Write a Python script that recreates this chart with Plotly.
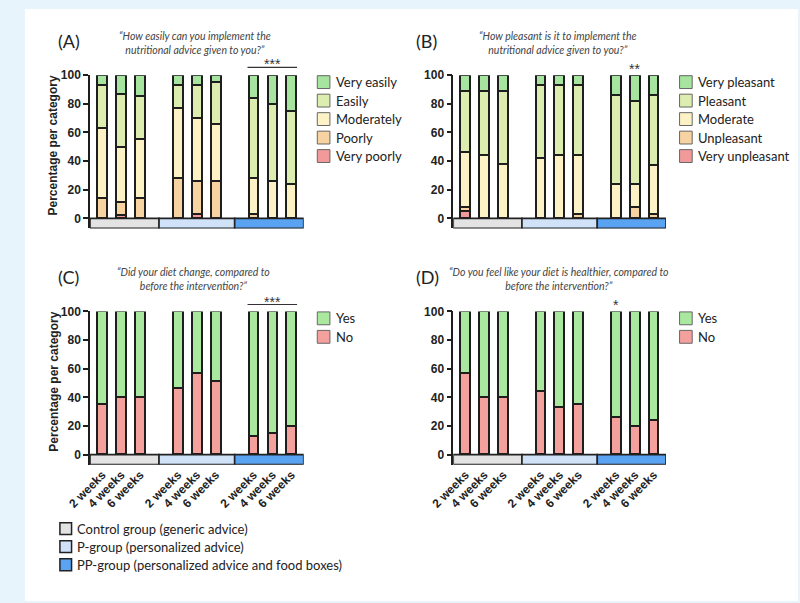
import plotly.graph_objects as go

W, H = 800, 603

weeks = ["2 weeks", "4 weeks", "6 weeks"]
group_names = ["Control group (generic advice)", "P-group (personalized advice)",
               "PP-group (personalized advice and food boxes)"]
group_colors = ["#e3e3e3", "#cfe2f8", "#5aa3f2"]

# Panel A: "How easily..." (bottom -> top), 9 bars: Control 2/4/6w, P 2/4/6w, PP 2/4/6w
a_labels = ["Very poorly", "Poorly", "Moderately", "Easily", "Very easily"]
a_very_poorly = [0, 2.5, 0, 0, 3, 0, 0, 0, 0]
a_poorly = [14, 8.5, 14, 28, 23, 26, 3, 0, 0]
a_moderately = [49, 39, 41, 49, 44, 40, 25, 26, 24]
a_easily = [30, 37, 30, 16, 23, 29, 56, 54, 51]
a_very_easily = [7, 13, 15, 7, 7, 5, 16, 20, 25]

# Panel B: "How pleasant..."
b_labels = ["Very unpleasant", "Unpleasant", "Moderate", "Pleasant", "Very pleasant"]
b_very_unpleasant = [5, 0, 0, 0, 0, 0, 0, 0, 0]
b_unpleasant = [2.5, 0, 0, 0, 0, 3, 0, 8, 3]
b_moderate = [38.5, 44, 37.5, 42, 44, 41, 24, 16, 34]
b_pleasant = [43, 45, 51.5, 51, 49, 49, 62, 58, 49]
b_very_pleasant = [11, 11, 11, 7, 7, 7, 14, 18, 14]

# Panel C: "Did your diet change..."
yn_labels = ["No", "Yes"]
c_no = [35, 40, 40, 46, 57, 51, 13, 15, 20]
c_yes = [65, 60, 60, 54, 43, 49, 87, 85, 80]

# Panel D: "Do you feel like your diet is healthier..."
d_no = [57, 40, 40, 44, 33, 35, 26, 20, 24]
d_yes = [43, 60, 60, 56, 67, 65, 74, 80, 76]

five_colors = ["#f29a9a", "#f8d3a2", "#fcf2c6", "#ddedb0", "#a6e4a0"]
yn_colors = ["#f4a19e", "#aae8a0"]

questions = [
    "\u201cHow easily can you implement the<br>nutritional advice given to you?\u201d",
    "\u201cHow pleasant is it to implement the<br>nutritional advice given to you?\u201d",
    "\u201cDid your diet change, compared to<br>before the intervention?\u201d",
    "\u201cDo you feel like your diet is healthier, compared to<br>before the intervention?\u201d",
]
panel_tags = ["(A)", "(B)", "(C)", "(D)"]

# bar positions: group index * 4 + week index
xpos = [g * 4 + w for g in range(3) for w in range(3)]
xtext = [weeks[w] for g in range(3) for w in range(3)]

fx = lambda px: px / W
fy = lambda py: 1 - py / H

# panel pixel boxes (left, right, top(=100), bottom(=-7))
panels = [
    dict(l=69, r=289, t=69, b=224, tag=47.5, q=177),
    dict(l=443, r=662, t=69, b=224, tag=415, q=551),
    dict(l=69, r=289, t=308, b=463, tag=47, q=176),
    dict(l=443, r=662, t=308, b=463, tag=416, q=552),
]

series = [
    (a_labels, [a_very_poorly, a_poorly, a_moderately, a_easily, a_very_easily], five_colors),
    (b_labels, [b_very_unpleasant, b_unpleasant, b_moderate, b_pleasant, b_very_pleasant], five_colors),
    (yn_labels, [c_no, c_yes], yn_colors),
    (yn_labels, [d_no, d_yes], yn_colors),
]

XR = [-0.65, 10.65]
YR = [-7, 100]
EDGE = "#1e1e1e"
LEG_FONT = "Lato"
ARIAL = "Liberation Sans, Arial"
fig = go.Figure()
shapes = []
annotations = []

# frame
shapes.append(dict(type="rect", xref="paper", yref="paper", x0=fx(2), x1=fx(798),
                   y0=fy(601), y1=fy(2), fillcolor="white", line=dict(width=0), layer="below"))

for i, (p, (labels, vals, cols)) in enumerate(zip(panels, series)):
    n = i + 1
    xa = "x" if n == 1 else f"x{n}"
    ya = "y" if n == 1 else f"y{n}"
    for lab, v, c in zip(labels, vals, cols):
        fig.add_trace(go.Bar(x=xpos, y=v, name=lab, marker=dict(color=c, line=dict(color=EDGE, width=2)),
                             width=0.52, xaxis=xa, yaxis=ya, showlegend=False, cliponaxis=False))
    xkey = "xaxis" if n == 1 else f"xaxis{n}"
    ykey = "yaxis" if n == 1 else f"yaxis{n}"
    show_x = i >= 2
    fig.update_layout(**{
        xkey: dict(domain=[fx(p["l"]), fx(p["r"])], range=XR, anchor=ya, showgrid=False, zeroline=False,
                   showline=False, ticks="", tickmode="array", tickvals=xpos, ticktext=xtext,
                   showticklabels=show_x, tickangle=-45,
                   tickfont=dict(family=ARIAL, size=12, color="#222", weight="bold")),
        ykey: dict(domain=[fy(p["b"]), fy(p["t"])], range=YR, anchor=xa, showgrid=False, zeroline=False,
                   showline=True, linecolor=EDGE, linewidth=1.5, ticks="outside", ticklen=5, tickwidth=1.5,
                   tickcolor=EDGE, tickmode="array", tickvals=[0, 20, 40, 60, 80, 100],
                   tickfont=dict(family=ARIAL, size=12, color="#222", weight="bold")),
    })
    # group boxes under the bars
    bounds = [XR[0], 3, 7, XR[1]]
    for g in range(3):
        shapes.append(dict(type="rect", xref=xa, yref=ya, x0=bounds[g], x1=bounds[g + 1], y0=-7, y1=0,
                           fillcolor=group_colors[g], line=dict(color="#222", width=1.6), layer="above"))
    # panel tag
    annotations.append(dict(text=panel_tags[i], xref="paper", yref="paper", x=fx(p["tag"]),
                            y=fy(p["t"] - 35), xanchor="center", yanchor="middle", showarrow=False,
                            font=dict(family=LEG_FONT, size=18, color="#222")))
    # question
    annotations.append(dict(text="<i>" + questions[i] + "</i>", xref="paper", yref="paper", x=fx(p["q"]),
                            y=fy(p["t"] - 33), xanchor="center", yanchor="middle", showarrow=False,
                            font=dict(family=LEG_FONT, size=10.5, color="#444")))
    # legend (manual)
    lx = p["r"] + 14
    for k, (lab, c) in enumerate(zip(labels[::-1], cols[::-1])):
        cy = p["t"] + 7 + k * 18.7
        shapes.append(dict(type="rect", xref="paper", yref="paper", x0=fx(lx), x1=fx(lx + 13),
                           y0=fy(cy + 6.5), y1=fy(cy - 6.5), fillcolor=c, line=dict(color="#666", width=1)))
        annotations.append(dict(text=lab, xref="paper", yref="paper", x=fx(lx + 17), y=fy(cy),
                                xanchor="left", yanchor="middle", showarrow=False,
                                font=dict(family=LEG_FONT, size=13, color="#222")))

# y-axis titles (A and C)
for p in (panels[0], panels[2]):
    annotations.append(dict(text="<b>Percentage per category</b>", xref="paper", yref="paper", x=fx(31),
                            y=fy(p["t"] + 71), textangle=-90, xanchor="center", yanchor="middle",
                            showarrow=False, font=dict(family=ARIAL, size=12, color="#222")))

# significance marks
for (xa, py, txt, x0, x1) in [("x", 61, "***", 7.68, 10.3), ("x3", 301, "***", 7.68, 10.3)]:
    shapes.append(dict(type="line", xref=xa, yref="paper", x0=x0, x1=x1, y0=fy(py), y1=fy(py),
                       line=dict(color="#333", width=1.2)))
    annotations.append(dict(text=txt, xref=xa, yref="paper", x=(x0 + x1) / 2, y=fy(py - 3),
                            xanchor="center", yanchor="middle", showarrow=False,
                            font=dict(family=ARIAL, size=14, color="#333")))
annotations.append(dict(text="**", xref="x2", yref="paper", x=9, y=fy(63), xanchor="center",
                        yanchor="middle", showarrow=False, font=dict(family=ARIAL, size=14, color="#333")))
annotations.append(dict(text="*", xref="x4", yref="paper", x=8, y=fy(302), xanchor="center",
                        yanchor="middle", showarrow=False, font=dict(family=ARIAL, size=14, color="#333")))

# group legend at the bottom
for g in range(3):
    cy = 527.7 + g * 18.3
    shapes.append(dict(type="rect", xref="paper", yref="paper", x0=fx(38), x1=fx(50),
                       y0=fy(cy + 6), y1=fy(cy - 6), fillcolor=group_colors[g], line=dict(color="#222", width=1.5)))
    annotations.append(dict(text=group_names[g], xref="paper", yref="paper", x=fx(54), y=fy(cy),
                            xanchor="left", yanchor="middle", showarrow=False,
                            font=dict(family=LEG_FONT, size=13, color="#222")))

fig.update_layout(width=W, height=H, margin=dict(l=0, r=0, t=0, b=0), paper_bgcolor="#e8f4fb",
                  plot_bgcolor="rgba(0,0,0,0)", barmode="stack", bargap=0, showlegend=False,
                  shapes=shapes, annotations=annotations)

fig.write_html("out.html")
